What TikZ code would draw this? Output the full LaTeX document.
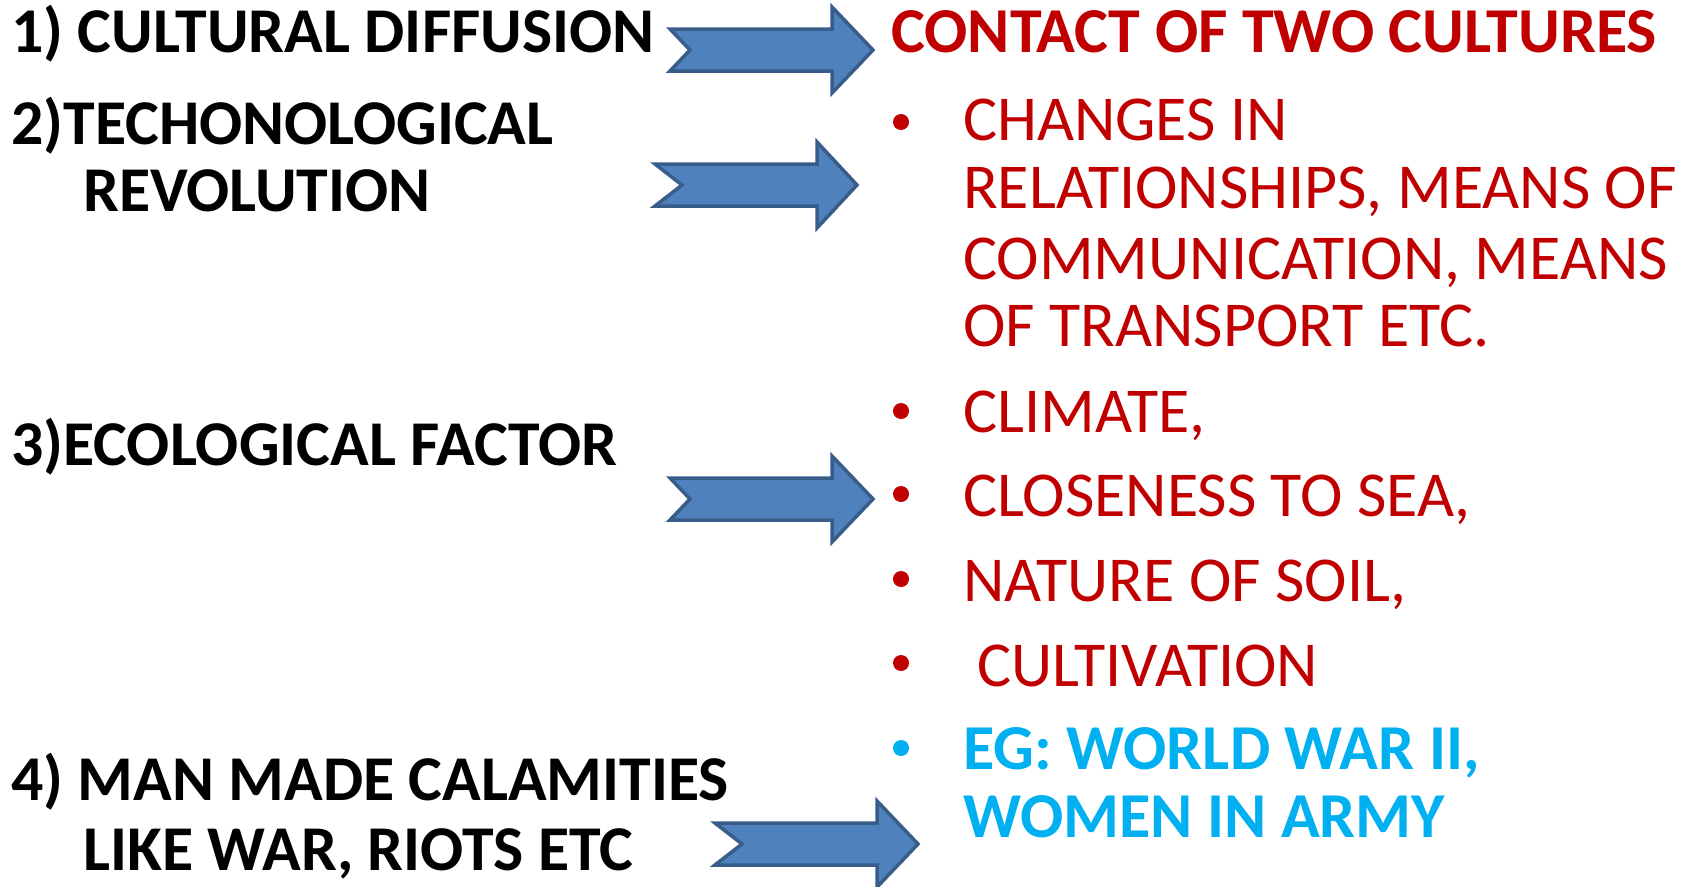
\documentclass[tikz,border=0pt]{standalone}
\usepackage{fontspec}
\setmainfont{Carlito}
\definecolor{arrfill}{HTML}{4F81BD}
\definecolor{arrline}{HTML}{385D8A}
\definecolor{darkred}{HTML}{C00000}
\definecolor{skyblue}{HTML}{00B0F0}
\newcommand{\blockarrowshape}[6]{% tail x, notch x, head base x, tip x, center y, name
  \draw[blockarrow] (#1,#5-21) -- (#3,#5-21) -- (#3,#5-43) -- (#4,#5) -- (#3,#5+43) -- (#3,#5+21) -- (#1,#5+21) -- (#2,#5) -- cycle;
  \coordinate (#6) at (#4,#5);
}
\begin{document}
\begin{tikzpicture}[x=1pt,y=-1pt,
  blockarrow/.style={fill=arrfill,draw=arrline,line width=3.5pt,line join=miter},
  lefttxt/.style={anchor=base west,inner sep=0pt,font=\fontsize{63.8}{70}\selectfont\bfseries,text=black},
  redtxt/.style={anchor=base west,inner sep=0pt,font=\fontsize{64}{70}\selectfont,text=darkred},
  redbold/.style={anchor=base west,inner sep=0pt,font=\fontsize{64}{70}\selectfont\bfseries,text=darkred},
  bluetxt/.style={anchor=base west,inner sep=0pt,font=\fontsize{64}{70}\selectfont\bfseries,text=skyblue},
  reddot/.style={circle,fill=darkred,inner sep=0pt,minimum size=16pt},
  bluedot/.style={circle,fill=skyblue,inner sep=0pt,minimum size=16pt}]
\useasboundingbox (0,0) rectangle (1694,886);
% left column
\node[lefttxt] (l1) at (11,52) {1) CULTURAL DIFFUSION};
\node[lefttxt] (l2a) at (11,144) {2)TECHONOLOGICAL};
\node[lefttxt] (l2b) at (83,211) {REVOLUTION};
\node[lefttxt] (l3) at (11,465) {3)ECOLOGICAL FACTOR};
\node[lefttxt] (l4a) at (11,800) {4) MAN MADE CALAMITIES};
\node[lefttxt] (l4b) at (83,870) {LIKE WAR, RIOTS ETC};
% arrows
\blockarrowshape{670}{690}{832}{873}{50}{a1}
\blockarrowshape{655}{682}{817}{857}{185}{a2}
\blockarrowshape{670}{690}{832}{873}{499}{a3}
\blockarrowshape{715}{742}{877}{918}{844}{a4}
% right column
\node[redbold] (r1) at (891,52) {CONTACT OF TWO CULTURES};
\node[reddot] (d1) at (901,122) {};
\node[redtxt] (r2a) at (963,140) {CHANGES IN};
\node[redtxt] (r2b) at (963,208) {RELATIONSHIPS, MEANS OF};
\node[redtxt] (r2c) at (963,279) {COMMUNICATION, MEANS};
\node[redtxt] (r2d) at (963,346) {OF TRANSPORT ETC.};
\node[reddot] (d2) at (901,411) {};
\node[redtxt] (r3a) at (963,432) {CLIMATE,};
\node[reddot] (d3) at (901,494) {};
\node[redtxt] (r3b) at (963,516) {CLOSENESS TO SEA,};
\node[reddot] (d4) at (901,579) {};
\node[redtxt] (r3c) at (963,601) {NATURE OF SOIL,};
\node[reddot] (d5) at (901,663) {};
\node[redtxt] (r3d) at (977,686) {CULTIVATION};
\node[bluedot] (d6) at (901,748) {};
\node[bluetxt] (r4a) at (963,769) {EG: WORLD WAR II,};
\node[bluetxt] (r4b) at (963,837) {WOMEN IN ARMY};
\end{tikzpicture}
\end{document}
